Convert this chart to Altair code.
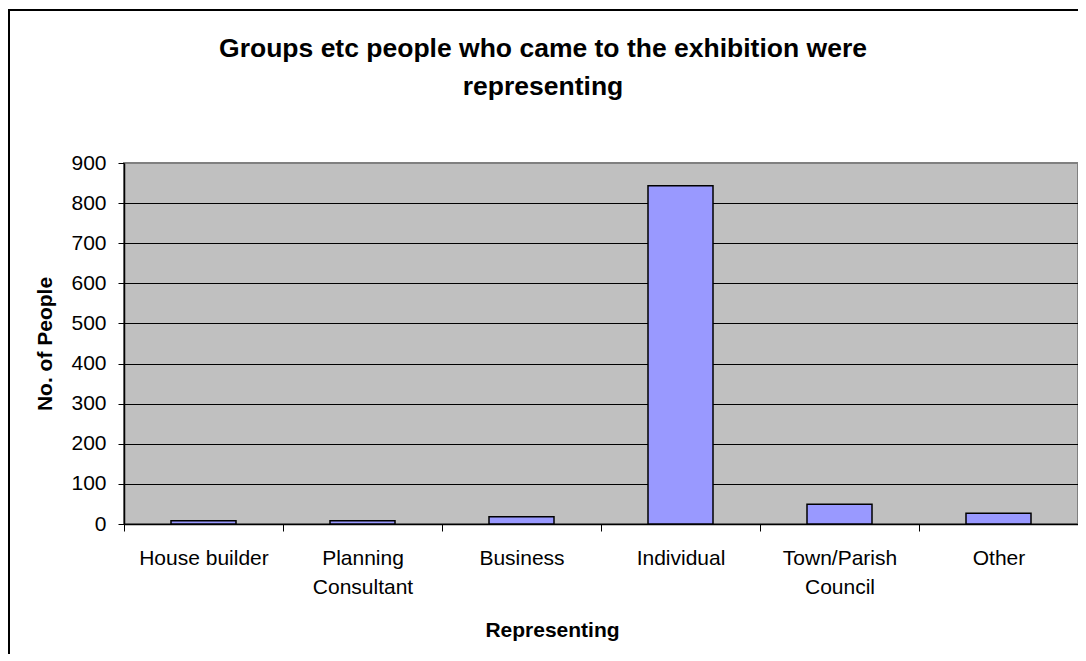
import altair as alt
import pandas as pd

categories = ["House builder", "Planning\nConsultant", "Business", "Individual", "Town/Parish\nCouncil", "Other"]
values = [8, 8, 18, 843, 49, 27]
y_ticks = [0, 100, 200, 300, 400, 500, 600, 700, 800, 900]
title_lines = ["Groups etc people who came to the exhibition were", "representing"]

df = pd.DataFrame({"Representing": categories, "People": values})
FONT = "Liberation Sans"

bars = alt.Chart(df).mark_bar(size=65, color="#9999FF", stroke="black", strokeWidth=1.5).encode(
    x=alt.X(
        "Representing:N",
        sort=categories,
        scale=alt.Scale(paddingInner=0, paddingOuter=0),
        axis=alt.Axis(
            title="Representing",
            titleFont=FONT, titleFontSize=21, titleFontWeight="bold", titleColor="black",
            titleX=428, titleY=106, titleBaseline="middle",
            labelAngle=0, labelFont=FONT, labelFontSize=21, labelColor="black",
            labelExpr="split(datum.label, '\\n')", labelLineHeight=29, labelPadding=16,
            labelLimit=0,
            tickBand="extent", tickSize=7, tickColor="black", tickWidth=1,
            domainColor="black", domainWidth=1.5, grid=False,
        ),
    ),
    y=alt.Y(
        "People:Q",
        scale=alt.Scale(domain=[0, 900], nice=False),
        axis=alt.Axis(
            title="No. of People",
            titleFont=FONT, titleFontSize=21, titleFontWeight="bold", titleColor="black",
            titleX=-79, titleBaseline="middle",
            values=y_ticks, labelFont=FONT, labelFontSize=21, labelColor="black",
            labelPadding=12, tickSize=6, tickColor="black", tickWidth=1,
            domainColor="black", domainWidth=1.5,
            grid=True,
            gridColor={"condition": {"test": "datum.value == 900", "value": "#808080"}, "value": "black"},
            gridWidth=1,
        ),
    ),
)

one = pd.DataFrame({"a": [0]})
frame_left = alt.Chart(one).mark_rule(color="black", strokeWidth=2).encode(
    x=alt.value(-115), y=alt.value(-153), y2=alt.value(600)
)
frame_top = alt.Chart(one).mark_rule(color="black", strokeWidth=2).encode(
    x=alt.value(-116), x2=alt.value(1000), y=alt.value(-153)
)
title = alt.Chart(one).mark_text(
    font=FONT, fontSize=26.5, fontWeight="bold", color="black",
    align="center", baseline="alphabetic", lineHeight=38,
).encode(x=alt.value(419), y=alt.value(-106), text=alt.value(title_lines))

chart = alt.layer(frame_left, frame_top, title, bars).properties(
    width=954,
    height=361,
    autosize=alt.AutoSizeParams(type="none"),
    padding={"left": 116, "top": 155, "right": 0, "bottom": 130},
).configure_view(fill="#C0C0C0", stroke="#808080", strokeWidth=2)

chart.save("out.html", embed_options={"renderer": "svg", "actions": False})
